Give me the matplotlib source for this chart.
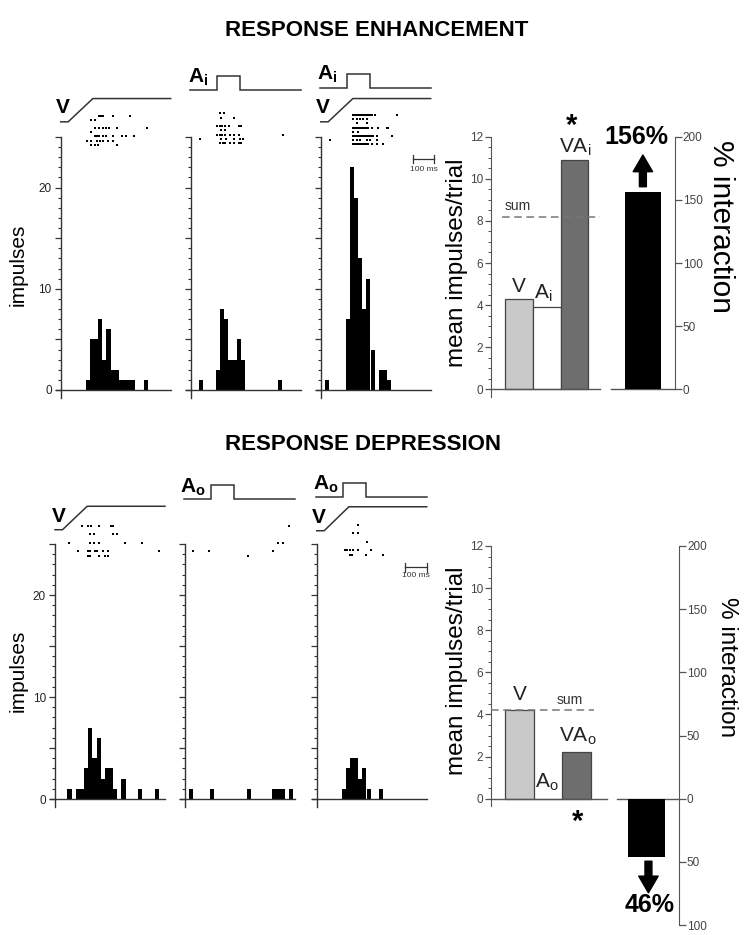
import matplotlib
matplotlib.use('Agg')
import matplotlib.pyplot as plt
import numpy as np
from matplotlib.ticker import MultipleLocator, FuncFormatter, NullFormatter, FixedLocator

plt.rcParams['font.family'] = ['Liberation Sans', 'DejaVu Sans']
plt.rcParams['mathtext.fontset'] = 'custom'
plt.rcParams['mathtext.rm'] = 'Liberation Sans'
plt.rcParams['mathtext.bf'] = 'Liberation Sans:bold'
plt.rcParams['mathtext.it'] = 'Liberation Sans:italic'

# ---------------- DATA ----------------
BIN_MS = 20
N_BINS = 27
bin_starts = np.arange(N_BINS) * BIN_MS

# PSTH counts (impulses per 20 ms bin)
enh_V_counts   = [0,0,0,0,0,0,1,5,5,7,3,6,2,2,1,1,1,1,0,0,1,0,0,0,0,0,0]
enh_A_counts   = [0,0,1,0,0,0,2,8,7,3,3,5,3,0,0,0,0,0,0,0,0,1,0,0,0,0,0]
enh_VA_counts  = [0,1,0,0,0,0,7,22,19,13,8,11,4,0,2,2,1,0,0,0,0,0,0,0,0,0,0]
dep_V_counts   = [0,0,0,1,0,1,1,3,7,4,6,2,3,3,1,0,2,0,0,0,1,0,0,0,1,0,0]
dep_A_counts   = [0,1,0,0,0,0,1,0,0,0,0,0,0,0,0,1,0,0,0,0,0,1,1,1,0,1,0]
dep_VA_counts  = [0,0,0,0,0,0,1,3,4,4,2,3,1,0,0,1,0,0,0,0,0,0,0,0,0,0,0]

# Raster spike times (ms), one list per trial (top trial first)
enh_V_raster = [
    [186, 194, 202, 251, 334],
    [145, 166],
    [],
    [166, 186, 202, 219, 235, 273, 415],
    [145],
    [166, 177, 186, 202, 219, 251, 294, 315, 354],
    [125, 145, 174, 190, 202, 230, 251],
    [145, 166, 182, 273],
]
enh_A_raster = [
    [141, 157],
    [145, 206],
    [],
    [125, 138, 149, 166, 182, 230, 243],
    [145, 166],
    [125, 138, 149, 166, 186, 209, 230, 442],
    [45, 145, 170, 206, 235, 251],
    [141, 154, 166, 190, 206, 230, 243],
]
enh_VA_raster = [
    [157, 165, 173, 181, 189, 197, 205, 213, 221, 229, 237, 245, 262, 366],
    [157, 173, 189, 205, 221],
    [173, 221],
    [157, 165, 173, 181, 189, 197, 205, 213, 221, 229, 245, 278, 318, 326],
    [157, 181],
    [157, 165, 173, 181, 189, 197, 205, 213, 221, 229, 237, 245, 253, 270, 342],
    [45, 157, 173, 189, 221, 237, 270],
    [157, 165, 173, 181, 189, 197, 205, 213, 221, 229, 245, 270, 302],
]
dep_V_raster = [
    [129, 157, 174, 214, 270, 278],
    [],
    [169, 190, 278, 300],
    [],
    [69, 169, 190, 214, 337, 421],
    [],
    [109, 157, 169, 193, 204, 233, 257, 501],
    [157, 169, 214, 241, 257],
]
dep_A_raster = [
    [503],
    [],
    [],
    [],
    [450, 471],
    [],
    [37, 117, 426],
    [305],
]
dep_VA_raster = [
    [198],
    [],
    [177, 201],
    [],
    [241],
    [],
    [137, 148, 161, 174, 201, 260],
    [161, 172, 238, 321],
]

# Stimulus schematics (time ms, relative level)
V_stim_t = [0, 36, 155, 530]
V_stim_level = [0, 0, 1, 1]
A_stim_t = [-5, 125, 125, 237, 237, 530]
A_stim_level = [0, 0, 1, 1, 0, 0]

# Bar summaries
bar_names_enh = ['V', 'A$_\\mathrm{i}$', 'VA$_\\mathrm{i}$']
bar_names_dep = ['V', 'A$_\\mathrm{o}$', 'VA$_\\mathrm{o}$']
enh_means = [4.3, 3.9, 10.9]
dep_means = [4.2, 0.0, 2.2]
enh_sum = 8.2
dep_sum = 4.2
enh_interaction = 156
dep_interaction = -46
bar_colors = ['#c9c9c9', '#ffffff', '#6e6e6e']

# ---------------- LAYOUT ----------------
W, H = 750, 935
fig = plt.figure(figsize=(7.5, 9.35), dpi=100)


def ax_px(l, t, r, b):
    return fig.add_axes([l / W, 1 - b / H, (r - l) / W, (b - t) / H])


S = 0.2075          # px per ms
XMIN, XMAX = -25, 530
YMIN, YMAX = -0.8, 25
TRACE = '#333333'


def psth(x0, y0, U, counts, raster, r_top, r_step, labels):
    ax = ax_px(x0 + XMIN * S, y0 - YMAX * U, x0 + XMAX * S, y0 - YMIN * U)
    ax.set_xlim(XMIN, XMAX)
    ax.set_ylim(YMIN, YMAX)
    ax.patch.set_alpha(0)
    ax.bar(bin_starts, counts, width=BIN_MS, align='edge', color='black', linewidth=0)
    for s in ['top', 'right']:
        ax.spines[s].set_visible(False)
    ax.spines['left'].set_position(('data', 0))
    ax.spines['bottom'].set_position(('data', 0))
    for s in ['left', 'bottom']:
        ax.spines[s].set_color('#333333')
        ax.spines[s].set_linewidth(1.0)
    ax.set_xticks([])
    ax.yaxis.set_major_locator(MultipleLocator(5))
    ax.yaxis.set_minor_locator(MultipleLocator(1))
    if labels:
        ax.yaxis.set_major_formatter(FuncFormatter(lambda v, p: f'{int(v)}' if v % 10 == 0 else ''))
    else:
        ax.yaxis.set_major_formatter(NullFormatter())
    ax.tick_params(axis='y', which='major', length=4.5, width=0.9, color='#333333',
                   direction='out', labelsize=8.5, labelcolor='#222222', pad=2)
    ax.tick_params(axis='y', which='minor', length=2.5, width=0.8, color='#333333', direction='out')
    for k, row in enumerate(raster):
        if row:
            ax.scatter(row, [r_top - k * r_step] * len(row), s=2.0, marker='s',
                       c='black', linewidths=0, clip_on=False)
    return ax


def v_trace(ax, low, amp):
    ax.plot(V_stim_t, [low + amp * v for v in V_stim_level], color=TRACE, lw=1.1,
            clip_on=False, solid_joinstyle='miter')


def a_trace(ax, base, amp):
    ax.plot(A_stim_t, [base + amp * v for v in A_stim_level], color=TRACE, lw=1.1,
            clip_on=False, solid_joinstyle='miter')


# ---- Enhancement PSTHs ----
U1 = 10.12
a1 = psth(60.7, 390, U1, enh_V_counts, enh_V_raster, 27.1, 0.41, True)
v_trace(a1, 26.5, 2.3)
a1.text(12, 27.95, 'V', ha='center', va='center', fontsize=15, fontweight='bold', clip_on=False)

a2 = psth(191, 390, U1, enh_A_counts, enh_A_raster, 27.34, 0.42, False)
a_trace(a2, 29.6, 1.4)
a2.text(-14, 30.9, r'$\mathbf{A}_\mathbf{i}$', ha='left', va='center', fontsize=15, clip_on=False)

a3 = psth(320.7, 390, U1, enh_VA_counts, enh_VA_raster, 27.17, 0.413, False)
a_trace(a3, 29.8, 1.4)
v_trace(a3, 26.5, 2.3)
a3.text(-19, 31.2, r'$\mathbf{A}_\mathbf{i}$', ha='left', va='center', fontsize=15, clip_on=False)
a3.text(9, 27.9, 'V', ha='center', va='center', fontsize=15, fontweight='bold', clip_on=False)
a3.plot([446, 547], [22.8, 22.8], color='#333333', lw=0.9, clip_on=False)
a3.plot([446, 446], [22.4, 23.2], color='#333333', lw=0.9, clip_on=False)
a3.plot([547, 547], [22.4, 23.2], color='#333333', lw=0.9, clip_on=False)
a3.text(496, 21.75, '100 ms', ha='center', va='center', fontsize=6, color='#333333', clip_on=False)

# ---- Depression PSTHs ----
U2 = 10.2
b1 = psth(55, 799, U2, dep_V_counts, dep_V_raster, 26.8, 0.42, True)
v_trace(b1, 26.4, 2.3)
b1.text(19, 27.7, 'V', ha='center', va='center', fontsize=15, fontweight='bold', clip_on=False)

b2 = psth(185, 799, U2, dep_A_counts, dep_A_raster, 26.8, 0.42, False)
a_trace(b2, 29.4, 1.4)
b2.text(-24, 30.6, r'$\mathbf{A}_\mathbf{o}$', ha='left', va='center', fontsize=15, clip_on=False)

b3 = psth(316.7, 799, U2, dep_VA_counts, dep_VA_raster, 26.9, 0.42, False)
a_trace(b3, 29.6, 1.35)
v_trace(b3, 26.3, 2.35)
b3.text(-16, 30.8, r'$\mathbf{A}_\mathbf{o}$', ha='left', va='center', fontsize=15, clip_on=False)
b3.text(11, 27.6, 'V', ha='center', va='center', fontsize=15, fontweight='bold', clip_on=False)
b3.plot([427, 530], [22.7, 22.7], color='#333333', lw=0.9, clip_on=False)
b3.plot([427, 427], [22.3, 23.1], color='#333333', lw=0.9, clip_on=False)
b3.plot([530, 530], [22.3, 23.1], color='#333333', lw=0.9, clip_on=False)
b3.text(478, 21.95, '100 ms', ha='center', va='center', fontsize=6, color='#333333', clip_on=False)

# impulses labels
fig.text(18 / W, 1 - 265 / H, 'impulses', rotation=90, ha='center', va='center', fontsize=15)
fig.text(18 / W, 1 - 671 / H, 'impulses', rotation=90, ha='center', va='center', fontsize=15)

# Titles
fig.text(225 / W, 1 - 30 / H, 'RESPONSE ENHANCEMENT', ha='left', va='center',
         fontsize=16, fontweight='bold')
fig.text(225 / W, 1 - 445 / H, 'RESPONSE DEPRESSION', ha='left', va='center',
         fontsize=16, fontweight='bold')

# ---------------- BAR CHARTS ----------------
AX_GRAY = '#555555'
bar_x = [0, 1, 2]
inter_x = 4.45


def bar_chart(top_px, bot_px, right_px, ylo, rlo, rbound_lo, means, sum_val, sum_x,
              inter, seg1_end, seg2_start):
    ax = ax_px(490.7, top_px, right_px, bot_px)
    ax.set_xlim(-1, 5.6)
    ax.set_ylim(ylo, 12)
    ax.patch.set_alpha(0)
    for s in ['top', 'right', 'bottom']:
        ax.spines[s].set_visible(False)
    ax.spines['left'].set_bounds(-0.36, 12)
    ax.spines['left'].set_color(AX_GRAY)
    ax.set_xticks([])
    ax.set_yticks(np.arange(0, 13, 2))
    ax.yaxis.set_minor_locator(FixedLocator(np.arange(0, 12.01, 0.5)))
    ax.tick_params(axis='y', which='major', length=4, width=0.9, color=AX_GRAY,
                   labelsize=8.5, labelcolor='#444444', pad=1.5)
    ax.tick_params(axis='y', which='minor', length=2, width=0.7, color=AX_GRAY)
    ax.bar(bar_x, means, width=1.0, color=bar_colors, edgecolor='#444444', linewidth=0.9, zorder=2)
    ax.plot([-1, seg1_end], [0, 0], color=AX_GRAY, lw=1.0, zorder=3, clip_on=False)
    ax.plot([seg2_start, 5.6], [0, 0], color=AX_GRAY, lw=1.0, zorder=3, clip_on=False)
    ax.plot(sum_x, [sum_val, sum_val], color='#777777', lw=1.1, dashes=(5, 3), zorder=4)

    ax2 = ax.twinx()
    ax2.set_ylim(rlo, 200)
    for s in ['top', 'left', 'bottom']:
        ax2.spines[s].set_visible(False)
    ax2.spines['right'].set_bounds(rbound_lo, 200)
    ax2.spines['right'].set_color(AX_GRAY)
    ax2.set_yticks(np.arange(rbound_lo, 201, 50))
    ax2.yaxis.set_major_formatter(FuncFormatter(lambda v, p: f'{abs(int(round(v)))}'))
    ax2.tick_params(axis='y', length=5, width=0.9, color=AX_GRAY, labelsize=8.5,
                    labelcolor='#444444', pad=0.5)
    ax2.bar([inter_x], [inter], width=1.3, color='black', linewidth=0, zorder=2)
    return ax, ax2


# Enhancement bar chart
e1, e2 = bar_chart(136.7, 396.7, 675, -0.35, -0.35 * 200 / 12, 0, enh_means,
                   enh_sum, [-0.6, 2.9], enh_interaction, 2.9, 3.32)
e1.text(0.0, enh_means[0] + 0.15, bar_names_enh[0], ha='center', va='bottom', fontsize=15, color='#222222')
e1.text(0.88, enh_means[1] + 0.15, bar_names_enh[1], ha='center', va='bottom', fontsize=15, color='#222222')
e1.text(2.03, enh_means[2] + 0.08, bar_names_enh[2], ha='center', va='bottom', fontsize=15, color='#222222')
e1.text(1.91, 12.2, r'$\mathbf{*}$', ha='center', va='baseline', fontsize=21, clip_on=False)
e1.text(-0.02, enh_sum + 0.5, 'sum', ha='center', va='center', fontsize=10, color='#333333')
e2.annotate('', xy=(4.45, 185.5), xytext=(4.45, 160.4),
            arrowprops=dict(width=5, headwidth=14, headlength=12, color='black', shrink=0))
e2.text(4.23, 199.4, f'{enh_interaction}%', ha='center', va='center', fontsize=18,
        fontweight='bold', clip_on=False)

# Depression bar chart
d1, d2 = bar_chart(546, 925, 679.3, -6, -100, -100, dep_means,
                   dep_sum, [-1.0, 2.6], dep_interaction, 3.06, 3.41)
d1.text(0.03, dep_means[0] + 0.3, bar_names_dep[0], ha='center', va='bottom', fontsize=15, color='#222222')
d1.text(0.96, 0.25, bar_names_dep[1], ha='center', va='bottom', fontsize=15, color='#222222')
d1.text(2.04, dep_means[2] + 0.25, bar_names_dep[2], ha='center', va='bottom', fontsize=15, color='#222222')
d1.text(2.04, -1.45, r'$\mathbf{*}$', ha='center', va='baseline', fontsize=21, clip_on=False)
d1.text(1.77, dep_sum + 0.5, 'sum', ha='center', va='center', fontsize=10, color='#333333')
d2.annotate('', xy=(4.52, -74.5), xytext=(4.52, -49.5),
            arrowprops=dict(width=5, headwidth=14, headlength=12, color='black', shrink=0))
d2.text(4.55, -83.8, f'{abs(dep_interaction)}%', ha='center', va='center', fontsize=18,
        fontweight='bold', clip_on=False)

# axis titles of bar charts
fig.text(457 / W, 1 - 263 / H, 'mean impulses/trial', rotation=90, ha='center', va='center', fontsize=17.5)
fig.text(721 / W, 1 - 227 / H, '% interaction', rotation=270, ha='center', va='center', fontsize=21.5)
fig.text(457 / W, 1 - 671 / H, 'mean impulses/trial', rotation=90, ha='center', va='center', fontsize=17.5)
fig.text(727 / W, 1 - 667 / H, '% interaction', rotation=270, ha='center', va='center', fontsize=17.5)

fig.savefig('out.png', dpi=100)
